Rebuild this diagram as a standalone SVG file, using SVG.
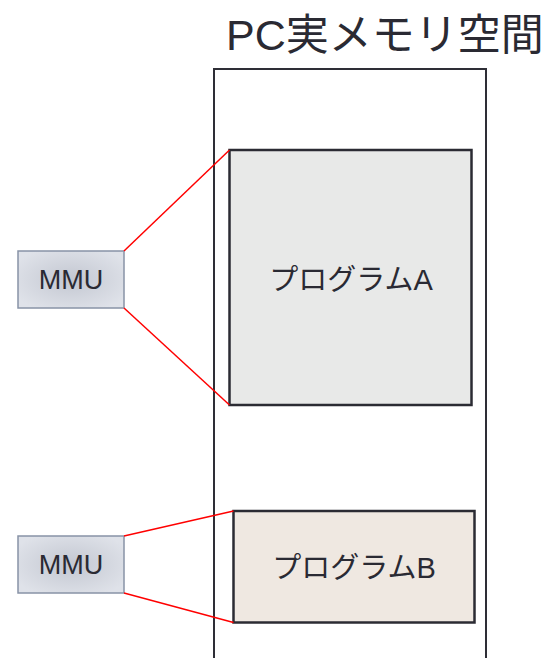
<svg xmlns="http://www.w3.org/2000/svg" width="545" height="658" viewBox="0 0 545 658">
<defs>
<radialGradient id="mmuGrad" cx="50%" cy="50%" r="60%">
<stop offset="0" stop-color="#c3c7d1"/>
<stop offset="1" stop-color="#dfe2e9"/>
</radialGradient>
<style>
text{font-family:"Liberation Sans","Noto Sans CJK JP",sans-serif;fill:#2a2a33}
.mmu rect{fill:url(#mmuGrad);stroke:#8893a6;stroke-width:1.5}
.mmu text{font-size:27px;text-anchor:middle}
.prog rect{stroke:#2b2b33;stroke-width:2.5}
.prog text{font-size:29px;text-anchor:middle}
.conn line{stroke:#ff0000;stroke-width:1.5}
</style>
</defs>
<rect width="545" height="658" fill="#ffffff"/>
<g id="memory">
<rect x="214" y="69" width="272" height="620" fill="none" stroke="#2e2e36" stroke-width="2"/>
<text x="226" y="50" font-size="43">PC実メモリ空間</text>
</g>
<g id="progA" class="prog">
<rect x="229.5" y="150" width="242" height="255" fill="#e8e9e8"/>
<text x="351" y="290">プログラムA</text>
</g>
<g id="progB" class="prog">
<rect x="233.5" y="511" width="241" height="111.5" fill="#efe8e1"/>
<text x="354" y="578">プログラムB</text>
</g>
<g id="mmu1" class="mmu">
<rect x="18" y="251" width="106" height="57"/>
<text x="71" y="289">MMU</text>
</g>
<g id="mmu2" class="mmu">
<rect x="18" y="536" width="106" height="57"/>
<text x="71" y="574">MMU</text>
</g>
<g id="connectors" class="conn">
<line x1="124" y1="251" x2="229.5" y2="150"/>
<line x1="124" y1="308" x2="229.5" y2="405"/>
<line x1="124" y1="536" x2="233.5" y2="511"/>
<line x1="124" y1="593" x2="233.5" y2="622.5"/>
</g>
</svg>
